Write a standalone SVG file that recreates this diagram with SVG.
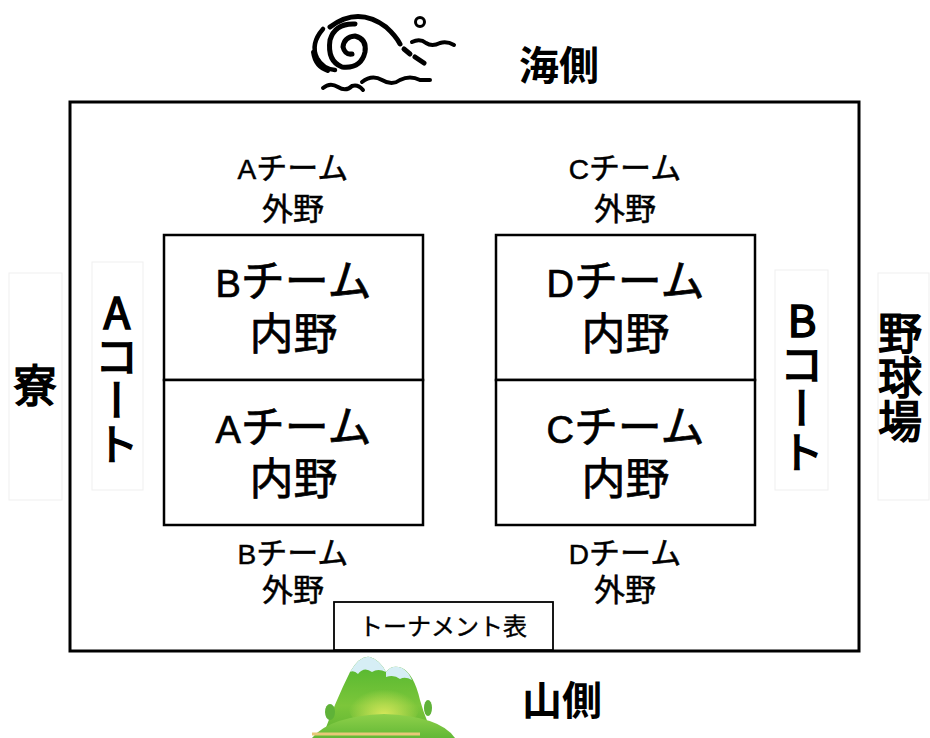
<svg xmlns="http://www.w3.org/2000/svg" width="930" height="738" viewBox="0 0 930 738">
  <style>
    .jp { font-family: "Noto Sans CJK JP", "Liberation Sans", sans-serif; fill: #000; }
    .lat { font-family: "Liberation Sans", "Noto Sans CJK JP", sans-serif; }
    .sm { font-size: 31px; stroke: #000; stroke-width: 0.5; }
    .sm .lat { font-size: 28px; }
    .lg { font-size: 44px; stroke: #000; stroke-width: 0.7; }
    .lg .lat { font-size: 38px; }
    .side { font-size: 44px; stroke: #000; stroke-width: 1.6; }
    .vert { writing-mode: vertical-rl; text-orientation: upright; }
    .head { font-size: 40px; font-weight: 700; }
    .court { fill: #fff; stroke: #000; stroke-width: 2.5; }
    .ghost { fill: none; stroke: #efefef; stroke-width: 1; }
    .ink { fill: none; stroke: #000; stroke-linecap: round; stroke-linejoin: round; }
  </style>
  <defs>
    <linearGradient id="mtn" x1="0" y1="0" x2="0" y2="1">
      <stop offset="0" stop-color="#4fb52f"/>
      <stop offset="0.6" stop-color="#7cc63a"/>
      <stop offset="1" stop-color="#5db232"/>
    </linearGradient>
    <radialGradient id="glow" cx="0.5" cy="0.7" r="0.5">
      <stop offset="0" stop-color="#d8e85a"/>
      <stop offset="1" stop-color="#d8e85a" stop-opacity="0"/>
    </radialGradient>
    <linearGradient id="meadow" x1="0" y1="0" x2="0" y2="1">
      <stop offset="0" stop-color="#8fd04a"/>
      <stop offset="1" stop-color="#62b836"/>
    </linearGradient>
  </defs>

  <rect width="930" height="738" fill="#fff"/>

  <!-- wave emblem (sea side) -->
  <g id="wave" class="ink">
    <path d="M330 27 Q358 6 386 27 Q396 36 400 44" stroke-width="5"/>
    <path d="M404 49 L410 54 M415 57 L424 63" stroke-width="5"/>
    <path d="M355 24 Q335 23 330 40 Q327 61 342 67 Q361 69 365 52 Q367 39 355 36 Q344 37 343 47 Q345 55 352 54" stroke-width="5"/>
    <path d="M323 29 Q310 44 317 58 Q323 69 335 70" stroke-width="4.5"/>
    <path d="M313 52 Q315 67 328 71" stroke-width="4"/>
    <path d="M412 42 Q420 38 426 43 Q432 47 440 43 Q447 41 454 45" stroke-width="4"/>
    <circle cx="420" cy="22" r="4.5" stroke-width="3"/>
    <path d="M323 88 Q330 82 338 87 Q346 92 352 86 Q358 84 363 90" stroke-width="4"/>
    <path d="M362 82 Q372 74 382 80 Q392 86 400 80 Q410 75 420 80 L430 80" stroke-width="4"/>
  </g>

  <!-- mountain emblem (mountain side) -->
  <g id="mountain">
    <path d="M322 738 Q336 700 350 672 Q360 655 370 657 Q380 660 386 672 Q392 664 402 668 Q414 674 420 700 Q426 722 436 738 Z" fill="url(#mtn)"/>
    <ellipse cx="384" cy="705" rx="36" ry="26" fill="url(#glow)"/>
    <path d="M350 672 Q360 655 370 657 Q380 660 386 672 Q378 668 372 672 Q364 666 358 674 Q354 670 350 672 Z" fill="#d6eef5"/>
    <path d="M386 672 Q392 664 402 668 Q408 671 412 680 Q405 676 400 679 Q394 674 386 677 Z" fill="#d6eef5"/>
    <path d="M312 738 Q330 716 384 714 Q440 716 455 738 Z" fill="url(#meadow)"/>
    <ellipse cx="330" cy="712" rx="5" ry="8" fill="#5fb238"/>
    <ellipse cx="428" cy="708" rx="4" ry="8" fill="#5fb238"/>
    <path d="M312 734 H420" stroke="#e8c878" stroke-width="3"/>
  </g>

  <!-- faint frames around the side labels -->
  <g id="side-frames">
    <rect class="ghost" x="9" y="273" width="53" height="227"/>
    <rect class="ghost" x="92" y="262" width="51" height="228"/>
    <rect class="ghost" x="775" y="270" width="53" height="220"/>
    <rect class="ghost" x="878" y="273" width="51" height="227"/>
  </g>

  <!-- outer field boundary -->
  <g id="field">
    <rect x="70" y="102" width="789" height="549" fill="none" stroke="#000" stroke-width="3"/>
  </g>

  <!-- A court -->
  <g id="court-a-top">
    <rect class="court" x="164" y="235" width="259" height="145"/>
    <text class="jp lg" text-anchor="middle"><tspan x="293.5" y="297"><tspan class="lat">B</tspan>チーム</tspan><tspan x="293.5" y="350">内野</tspan></text>
  </g>
  <g id="court-a-bottom">
    <rect class="court" x="164" y="380" width="259" height="145"/>
    <text class="jp lg" text-anchor="middle"><tspan x="293.5" y="443"><tspan class="lat">A</tspan>チーム</tspan><tspan x="293.5" y="495">内野</tspan></text>
  </g>

  <!-- B court -->
  <g id="court-b-top">
    <rect class="court" x="496" y="235" width="259" height="145"/>
    <text class="jp lg" text-anchor="middle"><tspan x="625.5" y="297"><tspan class="lat">D</tspan>チーム</tspan><tspan x="625.5" y="350">内野</tspan></text>
  </g>
  <g id="court-b-bottom">
    <rect class="court" x="496" y="380" width="259" height="145"/>
    <text class="jp lg" text-anchor="middle"><tspan x="625.5" y="443"><tspan class="lat">C</tspan>チーム</tspan><tspan x="625.5" y="495">内野</tspan></text>
  </g>

  <!-- outfield labels -->
  <g id="outfield-a">
    <text class="jp sm" text-anchor="middle"><tspan x="293" y="179"><tspan class="lat">A</tspan>チーム</tspan><tspan x="293" y="220">外野</tspan></text>
  </g>
  <g id="outfield-c">
    <text class="jp sm" text-anchor="middle"><tspan x="625" y="179"><tspan class="lat">C</tspan>チーム</tspan><tspan x="625" y="220">外野</tspan></text>
  </g>
  <g id="outfield-b">
    <text class="jp sm" text-anchor="middle"><tspan x="293" y="564"><tspan class="lat">B</tspan>チーム</tspan><tspan x="293" y="601">外野</tspan></text>
  </g>
  <g id="outfield-d">
    <text class="jp sm" text-anchor="middle"><tspan x="625" y="564"><tspan class="lat">D</tspan>チーム</tspan><tspan x="625" y="601">外野</tspan></text>
  </g>

  <!-- tournament board -->
  <g id="tournament">
    <rect x="334" y="602" width="219" height="48" fill="#fff" stroke="#000" stroke-width="1.8"/>
    <text class="jp" x="443" y="635" font-size="24" stroke="#000" stroke-width="0.4" text-anchor="middle">トーナメント表</text>
  </g>

  <!-- compass labels -->
  <g id="sea-side">
    <text class="jp head" x="559" y="80" text-anchor="middle">海側</text>
  </g>
  <g id="mountain-side">
    <text class="jp head" x="562" y="715" text-anchor="middle">山側</text>
  </g>

  <!-- vertical side labels -->
  <g id="dorm">
    <text class="jp side" x="35" y="402" text-anchor="middle">寮</text>
  </g>
  <g id="label-a-court">
    <text class="jp side vert" x="117" y="290">Aコート</text>
  </g>
  <g id="label-b-court">
    <text class="jp side vert" x="802" y="298">Bコート</text>
  </g>
  <g id="ballpark">
    <text class="jp side vert" x="900" y="311">野球場</text>
  </g>
</svg>
